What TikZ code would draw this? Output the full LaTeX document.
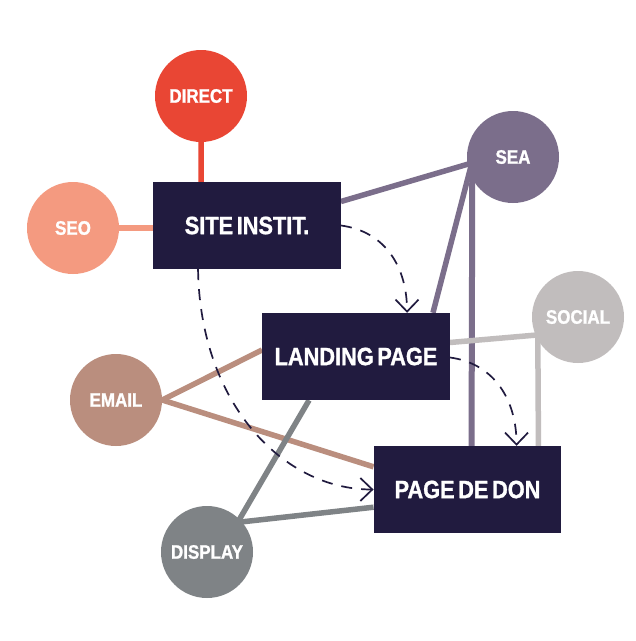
\documentclass[tikz,border=0pt]{standalone}
\usepackage{fontspec}
\setmainfont[FakeStretch=0.87,FakeBold=1.2,WordSpace=0.6]{Liberation Sans}
\usetikzlibrary{arrows.meta,backgrounds,calc}
\definecolor{cdirect}{HTML}{E94634}
\definecolor{cseo}{HTML}{F49A80}
\definecolor{csea}{HTML}{7B6E8B}
\definecolor{csocial}{HTML}{C1BDBD}
\definecolor{cemail}{HTML}{BA8E7E}
\definecolor{cdisplay}{HTML}{7F8386}
\definecolor{cdark}{HTML}{211B3F}
\tikzset{
  pagebox/.style={fill=cdark,text=white,minimum width=187.5pt,minimum height=87pt,inner sep=0pt,font=\fontsize{25}{25}\selectfont\bfseries},
  source/.style={circle,fill=#1,text=white,minimum size=92pt,inner sep=0pt,font=\fontsize{19.5}{19.5}\selectfont\bfseries},
  link/.style={draw=#1,line width=5.5pt},
  flow/.style={draw=cdark,line width=1.7pt,dash pattern=on 11pt off 9pt,-{Straight Barb[length=12pt,width=23pt,line width=1.7pt]}}
}
\begin{document}
\begin{tikzpicture}[x=1pt,y=-1pt]
\useasboundingbox (0,0) rectangle (636,641);
\begin{pgfonlayer}{background}
\fill[white] (0,0) rectangle (636,641);
\end{pgfonlayer}
\node[pagebox] (site) at (247,225.5) {SITE INSTIT.};
\node[pagebox] (landing) at (356,356.5) {LANDING PAGE};
\node[pagebox] (don) at (467.5,489.5) {PAGE DE DON};
\node[source=cdirect] (direct) at (201,96) {DIRECT};
\node[source=cseo] (seo) at (73,228) {SEO};
\node[source=csea] (sea) at (513,157) {SEA};
\node[source=csocial] (social) at (578,317) {SOCIAL};
\node[source=cemail] (email) at (116,400) {EMAIL};
\node[source=cdisplay] (display) at (207,552) {DISPLAY};
\begin{pgfonlayer}{background}
\draw[link=cdirect] (direct.south) -- ($(site.north west)+(48,0)$);
\draw[link=cseo] (seo.east) -- ($(site.west)+(0,2.5)$);
\draw[link=csea] ($(sea.west)+(5,6)$) -- ($(site.east)+(0,-24)$);
\draw[link=csea] ($(sea.west)+(5,6)$) -- ($(landing.north east)+(-17,0)$);
\draw[link=csea,line width=6pt] ($(sea.west)+(5.5,6)$) -- ($(don.north west)+(98,0)$);
\draw[link=csocial] ($(social.west)+(5,18)$) -- ($(landing.east)+(0,-14)$);
\draw[link=csocial] ($(social.west)+(6,18)$) -- ($(don.north east)+(-23,0)$);
\draw[link=cemail] (email.east) -- ($(landing.west)+(0,-6.5)$);
\draw[link=cemail] (email.east) -- ($(don.north west)+(0,21)$);
\draw[link=cdisplay] ($(display.north east)+(-2,3)$) -- ($(landing.south west)+(47,0)$);
\draw[link=cdisplay] ($(display.north east)+(-2,3)$) -- ($(don.south west)+(0,-26)$);
\end{pgfonlayer}
\draw[flow] (site.east) .. controls +(45,6) and +(0,-45) .. ($(landing.north west)+(145,0)$);
\draw[flow] ($(landing.east)+(0,1)$) .. controls +(45,6) and +(0,-45) .. ($(don.north west)+(143,0)$);
\draw[flow] ($(site.south west)+(45,0)$) .. controls +(2,135) and +(-90,0) .. (don.west);
\end{tikzpicture}
\end{document}
